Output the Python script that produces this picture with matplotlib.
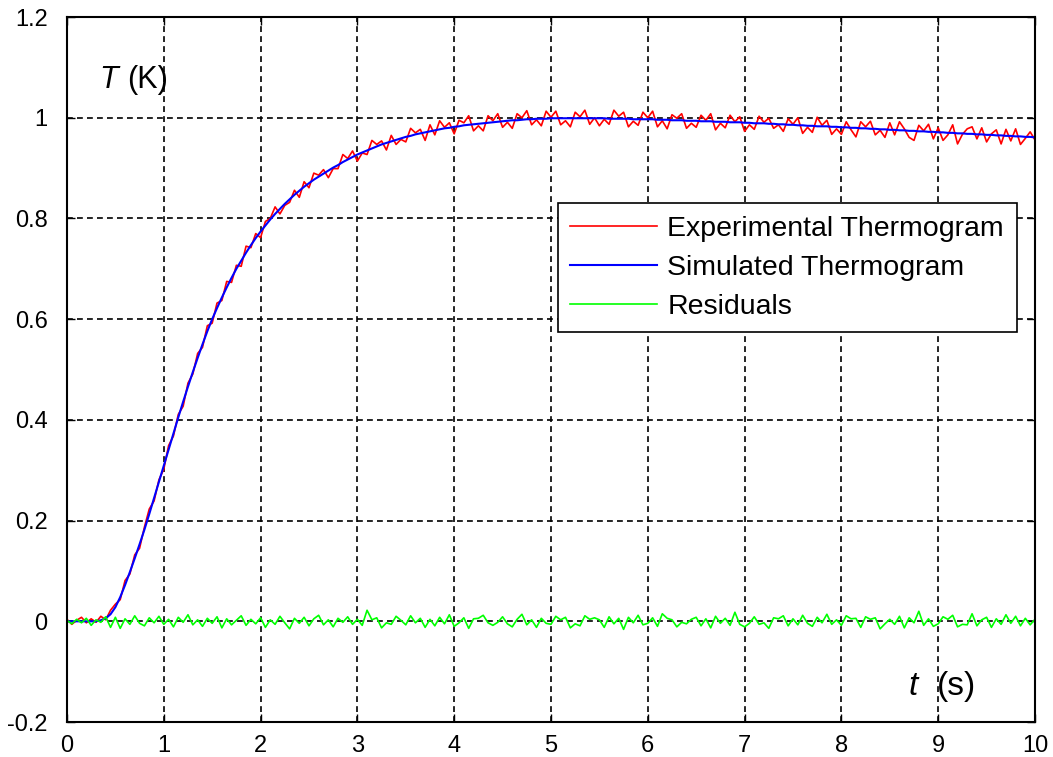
import numpy as np
import matplotlib
matplotlib.use("Agg")
import matplotlib.pyplot as plt

plt.rcParams['font.family'] = ['Liberation Sans', 'DejaVu Sans']

# time samples (s), 0.05 s apart
t_s = np.linspace(0, 10, 201)

# simulated thermogram (K)
simulated = [
    0, 0, 0, 0, 0, 0, 0, 0.002, 0.006, 0.014,
    0.028, 0.048, 0.072, 0.098, 0.125, 0.153, 0.182, 0.213, 0.245, 0.277,
    0.309, 0.341, 0.373, 0.405, 0.436, 0.466, 0.495, 0.523, 0.550, 0.576,
    0.600, 0.622, 0.643, 0.663, 0.682, 0.700, 0.716, 0.732, 0.747, 0.761,
    0.774, 0.786, 0.798, 0.809, 0.819, 0.829, 0.838, 0.847, 0.855, 0.863,
    0.870, 0.877, 0.883, 0.889, 0.895, 0.901, 0.906, 0.912, 0.917, 0.922,
    0.927, 0.931, 0.935, 0.939, 0.943, 0.947, 0.950, 0.953, 0.956, 0.959,
    0.962, 0.964, 0.967, 0.969, 0.971, 0.973, 0.975, 0.977, 0.979, 0.980,
    0.982, 0.983, 0.985, 0.986, 0.987, 0.988, 0.989, 0.990, 0.991, 0.992,
    0.993, 0.994, 0.995, 0.995, 0.996, 0.997, 0.997, 0.998, 0.998, 0.998,
    0.999, 0.999, 0.999, 0.999, 0.999, 0.999, 0.999, 0.999, 0.999, 0.999,
    0.999, 0.999, 0.998, 0.998, 0.998, 0.998, 0.998, 0.997, 0.997, 0.997,
    0.997, 0.997, 0.996, 0.996, 0.996, 0.995, 0.995, 0.995, 0.994, 0.994,
    0.994, 0.993, 0.993, 0.993, 0.992, 0.992, 0.992, 0.991, 0.991, 0.991,
    0.990, 0.990, 0.989, 0.989, 0.989, 0.988, 0.988, 0.987, 0.987, 0.986,
    0.986, 0.985, 0.985, 0.984, 0.984, 0.983, 0.983, 0.983, 0.982, 0.982,
    0.981, 0.981, 0.980, 0.980, 0.979, 0.979, 0.978, 0.978, 0.977, 0.977,
    0.976, 0.976, 0.975, 0.975, 0.974, 0.974, 0.973, 0.973, 0.972, 0.972,
    0.971, 0.971, 0.970, 0.970, 0.969, 0.969, 0.968, 0.968, 0.967, 0.967,
    0.966, 0.966, 0.965, 0.965, 0.964, 0.964, 0.963, 0.963, 0.962, 0.962,
    0.961,
]

# experimental thermogram (K)
experimental = [
    0.004, -0.006, 0.002, 0.008, -0.003, 0.005, -0.002, 0.010, 0.003, 0.022,
    0.034, 0.043, 0.081, 0.094, 0.132, 0.145, 0.187, 0.223, 0.239, 0.281,
    0.302, 0.349, 0.368, 0.411, 0.427, 0.473, 0.491, 0.532, 0.544, 0.587,
    0.592, 0.632, 0.637, 0.675, 0.673, 0.707, 0.705, 0.745, 0.742, 0.770,
    0.762, 0.794, 0.800, 0.823, 0.809, 0.826, 0.832, 0.856, 0.842, 0.873,
    0.861, 0.890, 0.886, 0.897, 0.881, 0.899, 0.899, 0.927, 0.919, 0.934,
    0.914, 0.930, 0.927, 0.955, 0.947, 0.954, 0.936, 0.965, 0.947, 0.957,
    0.952, 0.979, 0.970, 0.977, 0.955, 0.986, 0.966, 0.994, 0.981, 0.990,
    0.968, 0.995, 0.990, 1.004, 0.974, 0.984, 0.974, 1.004, 0.994, 1.008,
    0.981, 0.991, 0.979, 1.008, 1.000, 1.014, 0.986, 0.996, 0.984, 1.013,
    1.001, 1.013, 0.986, 0.994, 0.982, 1.011, 1.002, 1.015, 0.987, 1.000,
    0.984, 0.997, 0.987, 1.015, 1.003, 1.011, 0.982, 0.993, 0.985, 1.011,
    1.000, 1.013, 0.982, 0.994, 0.978, 1.006, 0.999, 1.008, 0.979, 0.989,
    0.981, 1.005, 0.995, 1.008, 0.976, 0.989, 0.980, 1.005, 0.992, 1.002,
    0.973, 0.986, 0.977, 1.003, 0.991, 0.999, 0.979, 0.986, 0.973, 0.998,
    0.987, 1.000, 0.969, 0.981, 0.971, 1.001, 0.985, 0.995, 0.967, 0.978,
    0.967, 0.992, 0.976, 0.962, 0.992, 0.982, 0.993, 0.966, 0.975, 0.961,
    0.990, 0.966, 0.992, 0.978, 0.961, 0.955, 0.985, 0.974, 0.987, 0.958,
    0.980, 0.955, 0.966, 0.986, 0.948, 0.967, 0.978, 0.982, 0.958, 0.980,
    0.952, 0.968, 0.976, 0.948, 0.977, 0.954, 0.978, 0.947, 0.959, 0.972,
    0.956,
]

# residuals (K)
residuals = [
    0.002, -0.005, 0.004, -0.003, 0.006, -0.008, 0.003, -0.002, 0.009, -0.012,
    0.008, -0.014, 0.005, -0.006, 0.011, -0.004, -0.009, 0.007, -0.003, 0.010,
    -0.006, 0.004, -0.011, 0.008, -0.002, 0.013, -0.007, 0.003, -0.010, 0.006,
    -0.004, 0.009, -0.013, 0.005, -0.007, 0.002, 0.011, -0.008, 0.004, -0.005,
    0.007, -0.012, 0.003, -0.006, 0.010, -0.003, -0.015, 0.006, -0.004, 0.008,
    -0.009, 0.005, 0.012, -0.007, 0.003, -0.011, 0.006, -0.002, 0.009, -0.006,
    0.004, -0.008, 0.022, 0.003, 0.007, -0.013, -0.003, -0.006, 0.010, 0.002,
    -0.007, 0.011, -0.003, 0.006, -0.012, 0.004, -0.009, 0.008, -0.005, 0.013,
    -0.010, -0.003, 0.007, -0.014, 0.005, 0.006, 0.012, -0.003, -0.008, -0.002,
    0.009, -0.005, -0.011, 0.004, 0.014, -0.007, 0.003, -0.012, 0.006, -0.004,
    -0.006, 0.010, 0.003, 0.008, -0.013, -0.005, -0.009, 0.011, 0.004, 0.007,
    0.003, -0.012, 0.009, -0.005, 0.006, -0.016, 0.008, -0.003, 0.012, -0.007,
    -0.004, 0.007, -0.010, 0.015, 0.006, 0.003, -0.011, -0.002, -0.005, 0.004,
    0.008, -0.009, 0.005, -0.013, 0.010, -0.004, 0.006, -0.008, 0.018, -0.006,
    -0.011, -0.004, 0.009, -0.006, -0.003, -0.014, 0.007, 0.005, 0.011, -0.009,
    0.005, -0.007, 0.012, -0.004, -0.010, 0.008, -0.003, 0.014, -0.006, 0.003,
    -0.008, 0.011, 0.005, 0.006, -0.012, 0.009, 0.004, 0.007, -0.015, -0.005,
    0.004, -0.006, 0.010, -0.013, 0.007, -0.003, 0.020, -0.008, 0.005, -0.010,
    -0.005, 0.009, 0.004, 0.012, -0.011, -0.006, -0.007, 0.015, -0.009, 0.003,
    0.008, -0.012, 0.005, -0.006, 0.013, -0.004, 0.010, -0.009, 0.006, -0.007,
    0.004,
]

x_ticks = [0, 1, 2, 3, 4, 5, 6, 7, 8, 9, 10]
y_ticks = [-0.2, 0, 0.2, 0.4, 0.6, 0.8, 1, 1.2]
y_ticklabels = ['-0.2', '0', '0.2', '0.4', '0.6', '0.8', '1', '1.2']

fig = plt.figure(figsize=(10.53, 7.57), dpi=100)
ax = fig.add_axes([0.0636, 0.0462, 0.9193, 0.9313])

ax.plot(t_s, experimental, color='#ff0000', lw=1.2, label='Experimental Thermogram')
ax.plot(t_s, simulated, color='#0000ff', lw=1.5, label='Simulated Thermogram')
ax.plot(t_s, residuals, color='#00ff00', lw=1.2, label='Residuals')

ax.set_xlim(0, 10)
ax.set_ylim(-0.2, 1.2)
ax.set_xticks(x_ticks)
ax.set_yticks(y_ticks)
ax.set_yticklabels(y_ticklabels)
ax.tick_params(direction='in', top=True, right=True, length=6, labelsize=17, width=1)
ax.tick_params(axis='y', pad=14)
ax.tick_params(axis='x', pad=9)
ax.grid(True, color='black', linestyle=(0, (3.5, 2.5)), lw=1.2)
for sp in ax.spines.values():
    sp.set_linewidth(1.5)

# axis names sit inside the plot, as in the original figure
ax.text(0.33, 1.075, 'T', fontsize=22, va='center', ha='left', style='italic')
ax.text(0.62, 1.075, '(K)', fontsize=22, va='center', ha='left')
ax.text(8.69, -0.130, 't', fontsize=24, va='center', ha='left', style='italic')
ax.text(8.99, -0.130, '(s)', fontsize=24, va='center', ha='left')

leg = ax.legend(loc='upper right', bbox_to_anchor=(0.981, 0.736), fontsize=20.5,
                handlelength=3.05, handletextpad=0.35, labelspacing=0.45,
                borderpad=0.45, borderaxespad=0, fancybox=False, framealpha=1,
                edgecolor='black')
leg.get_frame().set_linewidth(1.2)

fig.savefig('out.png', dpi=100)
